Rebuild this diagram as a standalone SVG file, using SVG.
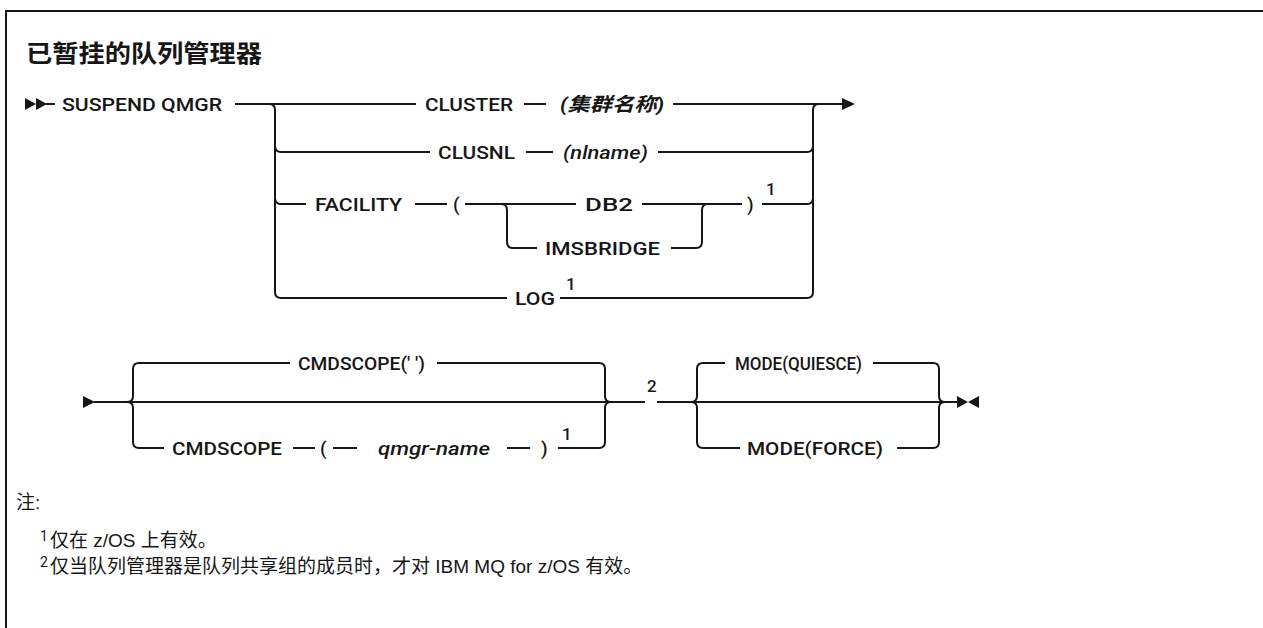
<svg xmlns="http://www.w3.org/2000/svg" width="1263" height="628" viewBox="0 0 1263 628">
<style>
.t{font-family:Roboto,"Liberation Sans","Noto Sans CJK SC",sans-serif;font-weight:500;font-size:19px;fill:#161616}
.i{font-style:italic}
.b{font-weight:bold}
.s{font-family:Roboto,"Liberation Sans",sans-serif;font-weight:500;font-size:17px;fill:#161616}
.n{font-family:"Liberation Sans","Noto Sans CJK SC",sans-serif;font-size:19px;fill:#161616}
.ln{fill:none;stroke:#161616;stroke-width:2}
.ar{fill:#161616}
</style>
<rect width="1263" height="628" fill="#ffffff"/>
<path class="ln" d="M6 640 V11 H1270"/>
<text x="26" y="62" style="font-family:'Noto Sans CJK SC',sans-serif;font-size:24px;font-weight:bold;fill:#161616" textLength="236" lengthAdjust="spacingAndGlyphs">已暂挂的队列管理器</text>

<g id="connectors">
  <polygon class="ar" points="25,98 36,104 25,110"/>
  <polygon class="ar" points="36,98 47,104 36,110"/>
  <path class="ln" d="M46 104 H55"/>
  <path class="ln" d="M235 104 H416"/>
  <path class="ln" d="M524 104 H546"/>
  <path class="ln" d="M673 104 H842"/>
  <polygon class="ar" points="842,98 855,104 842,110"/>
  <path class="ln" d="M269 104 Q275 104 275 110 V292 Q275 298 281 298 H507"/>
  <path class="ln" d="M275 146 Q275 152 281 152 H430"/>
  <path class="ln" d="M275 198 Q275 204 281 204 H306"/>
  <path class="ln" d="M526 152 H553"/>
  <path class="ln" d="M658 152 H807 Q813 152 813 146"/>
  <path class="ln" d="M415 204 H447"/>
  <path class="ln" d="M465 204 H576"/>
  <path class="ln" d="M642 204 H742"/>
  <path class="ln" d="M762 204 H807 Q813 204 813 198"/>
  <path class="ln" d="M501 204 Q507 204 507 210 V242 Q507 248 513 248 H537"/>
  <path class="ln" d="M671 248 H696 Q702 248 702 242 V210 Q702 204 708 204"/>
  <path class="ln" d="M560 298 H807 Q813 298 813 292 V110 Q813 104 819 104"/>
  <polygon class="ar" points="83,396 95,402 83,408"/>
  <path class="ln" d="M94 402 H645"/>
  <path class="ln" d="M127 402 Q133 402 133 396 V369 Q133 363 139 363 H290"/>
  <path class="ln" d="M127 402 Q133 402 133 408 V442 Q133 448 139 448 H164"/>
  <path class="ln" d="M437 363 H599 Q605 363 605 369 V396 Q605 402 611 402"/>
  <path class="ln" d="M293 448 H315"/>
  <path class="ln" d="M333 448 H357"/>
  <path class="ln" d="M507 448 H530"/>
  <path class="ln" d="M558 448 H599 Q605 448 605 442 V408 Q605 402 611 402"/>
  <path class="ln" d="M657 402 H958"/>
  <path class="ln" d="M691 402 Q697 402 697 396 V369 Q697 363 703 363 H725"/>
  <path class="ln" d="M691 402 Q697 402 697 408 V442 Q697 448 703 448 H740"/>
  <path class="ln" d="M873 363 H933 Q939 363 939 369 V396 Q939 402 945 402"/>
  <path class="ln" d="M897 448 H933 Q939 448 939 442 V408 Q939 402 945 402"/>
  <polygon class="ar" points="957,396 968,402 957,408"/>
  <polygon class="ar" points="979,396 968,402 979,408"/>
</g>

<g id="suspend"><text class="t" x="62" y="111" textLength="160" lengthAdjust="spacingAndGlyphs">SUSPEND QMGR</text></g>
<g id="cluster">
  <text class="t" x="425" y="111" textLength="88" lengthAdjust="spacingAndGlyphs">CLUSTER</text>
  <text class="t i b" x="560" y="111" textLength="104" lengthAdjust="spacingAndGlyphs">(集群名称)</text>
</g>
<g id="clusnl">
  <text class="t" x="438" y="159" textLength="77" lengthAdjust="spacingAndGlyphs">CLUSNL</text>
  <text class="t i" x="563" y="159" textLength="85" lengthAdjust="spacingAndGlyphs">(nlname)</text>
</g>
<g id="facility">
  <text class="t" x="315" y="211" textLength="87" lengthAdjust="spacingAndGlyphs">FACILITY</text>
  <text class="t" x="453" y="211">(</text>
  <text class="t" x="585" y="211" textLength="48" lengthAdjust="spacingAndGlyphs">DB2</text>
  <text class="t" x="545" y="255" textLength="115" lengthAdjust="spacingAndGlyphs">IMSBRIDGE</text>
  <text class="t" x="747" y="211">)</text>
  <text class="s" x="766" y="195">1</text>
</g>
<g id="log">
  <text class="t" x="515" y="305" textLength="40" lengthAdjust="spacingAndGlyphs">LOG</text>
  <text class="s" x="566" y="290">1</text>
</g>
<g id="cmdscope">
  <text class="t" x="298" y="370" textLength="127" lengthAdjust="spacingAndGlyphs">CMDSCOPE(' ')</text>
  <text class="t" x="172" y="455" textLength="110" lengthAdjust="spacingAndGlyphs">CMDSCOPE</text>
  <text class="t" x="320" y="455">(</text>
  <text class="t i" x="378" y="455" textLength="112" lengthAdjust="spacingAndGlyphs">qmgr-name</text>
  <text class="t" x="541" y="455">)</text>
  <text class="s" x="562" y="440">1</text>
  <text class="s" x="647" y="392">2</text>
</g>
<g id="mode">
  <text class="t" x="735" y="370" textLength="127" lengthAdjust="spacingAndGlyphs">MODE(QUIESCE)</text>
  <text class="t" x="747" y="455" textLength="136" lengthAdjust="spacingAndGlyphs">MODE(FORCE)</text>
</g>
<g id="notes">
  <text class="n" x="16" y="509">注:</text>
  <text class="s" x="40" y="541" style="font-size:14px;font-weight:normal">1</text>
  <text class="n" x="50" y="547">仅在 z/OS 上有效。</text>
  <text class="s" x="40" y="567" style="font-size:14px;font-weight:normal">2</text>
  <text class="n" x="50" y="573">仅当队列管理器是队列共享组的成员时，才对 IBM MQ for z/OS 有效。</text>
</g>
</svg>
